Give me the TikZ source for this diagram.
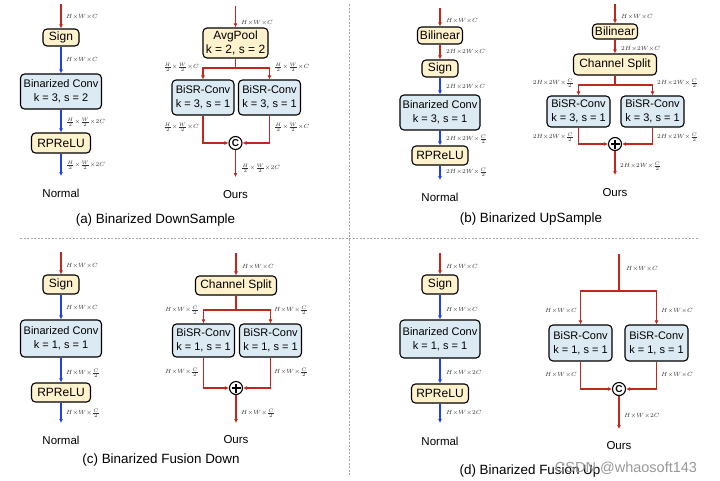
\documentclass[tikz,border=0pt]{standalone}
\usepackage{fontspec}
\setmainfont{Liberation Sans}
\usetikzlibrary{arrows.meta}
\definecolor{rc}{HTML}{C0281E}
\definecolor{bc}{HTML}{2040E8}
\definecolor{yf}{HTML}{FFF2CC}
\definecolor{bf}{HTML}{DCEAF4}
\newcommand{\mytimes}{{\times}}
\tikzset{
 boxbase/.style={draw=black, line width=1.1pt, rounded corners=4pt, inner sep=0pt, align=center},
 ybox/.style={boxbase, fill=yf, font=\fontsize{12}{14}\selectfont},
 bbox/.style={boxbase, fill=bf, font=\fontsize{11}{14}\selectfont},
 ra/.style={draw=rc, line width=1.1pt, -{Latex[length=4pt,width=4pt]}},
 rl/.style={draw=rc, line width=1.1pt},
 ba/.style={draw=bc, line width=1.1pt, -{Latex[length=4pt,width=4pt]}},
 dim/.style={font=\fontsize{6}{7}\selectfont, text=black!80, inner sep=0pt},
 dimL/.style={dim, anchor=west},
 dimR/.style={dim, anchor=east},
 lab/.style={font=\fontsize{11.5}{13}\selectfont},
 captxt/.style={font=\fontsize{13.4}{15}\selectfont},
 catc/.style={circle, draw=black, line width=1.1pt, fill=white, minimum size=13pt, inner sep=0pt, font=\fontsize{10}{10}\selectfont\bfseries},
 addc/.style={circle, draw=black, line width=1.1pt, fill=white, minimum size=13pt, inner sep=0pt,
   path picture={\draw[line width=1.1pt] ([xshift=-4.5pt]path picture bounding box.center) -- ([xshift=4.5pt]path picture bounding box.center);
                 \draw[line width=1.1pt] ([yshift=-4.5pt]path picture bounding box.center) -- ([yshift=4.5pt]path picture bounding box.center);}},
 sepline/.style={draw=black!35, dash pattern=on 2pt off 1.5pt, line width=0.6pt},
}
\begin{document}
\begin{tikzpicture}[x=1pt,y=-1pt]
\fill[white] (0,0) rectangle (720,480);
\useasboundingbox (0,0) rectangle (720,480);
% separators
\draw[sepline] (20,238.5) -- (698,238.5);
\draw[sepline] (349,4) -- (349,476);

% ===== (a) Normal =====
\coordinate (aNin) at (61,4);
\node[ybox, minimum width=36pt, minimum height=17pt] (aNsign) at (61,37.5) {Sign};
\node[bbox, minimum width=81pt, minimum height=35pt] (aNconv) at (61,91.5) {Binarized Conv\\k = 3, s = 2};
\node[ybox, minimum width=59pt, minimum height=20pt] (aNrp) at (61,143) {RPReLU};
\coordinate (aNout) at (61,176);
\draw[ra] (aNin) -- (aNsign);
\draw[ba] (aNsign) -- (aNconv);
\draw[ba] (aNconv) -- (aNrp);
\draw[ba] (aNrp) -- (aNout);
\node[dimL] (aNd1) at (66,17) {$H\mytimes W\mytimes C$};
\node[dimL] (aNd2) at (66,60) {$H\mytimes W\mytimes C$};
\node[dimL] (aNd3) at (66,122) {$\frac{H}{2}\mytimes\frac{W}{2}\mytimes 2C$};
\node[dimL] (aNd4) at (66,165) {$\frac{H}{2}\mytimes\frac{W}{2}\mytimes 2C$};
\node[lab] (aNt) at (61,193) {Normal};

% ===== (a) Ours =====
\coordinate (aOin) at (235.5,6);
\node[ybox, minimum width=65pt, minimum height=30pt] (aOpool) at (235.5,43) {AvgPool\\k = 2, s = 2};
\coordinate (aOj) at (235.5,68);
\node[bbox, minimum width=62pt, minimum height=35pt] (aOl) at (203,97.5) {BiSR-Conv\\k = 3, s = 1};
\node[bbox, minimum width=62pt, minimum height=35pt] (aOr) at (269.5,97.5) {BiSR-Conv\\k = 3, s = 1};
\node[catc] (aOc) at (235.5,143) {C};
\coordinate (aOout) at (235.5,177);
\draw[ra] (aOin) -- (aOpool);
\draw[rl] (aOpool) -- (aOj);
\draw[ra] (aOj) -| (aOl);
\draw[ra] (aOj) -| (aOr);
\draw[ra] (aOl) |- (aOc);
\draw[ra] (aOr) |- (aOc);
\draw[ra] (aOc) -- (aOout);
\node[dimL] (aOd1) at (241,23) {$H\mytimes W\mytimes C$};
\node[dimR] (aOd2) at (199,67) {$\frac{H}{2}\mytimes\frac{W}{2}\mytimes C$};
\node[dimL] (aOd3) at (274,67) {$\frac{H}{2}\mytimes\frac{W}{2}\mytimes C$};
\node[dimR] (aOd4) at (199,127) {$\frac{H}{2}\mytimes\frac{W}{2}\mytimes C$};
\node[dimL] (aOd5) at (274,127) {$\frac{H}{2}\mytimes\frac{W}{2}\mytimes C$};
\node[dimL] (aOd6) at (241,168) {$\frac{H}{2}\mytimes\frac{W}{2}\mytimes 2C$};
\node[lab] (aOt) at (235.5,195) {Ours};
\node[captxt] (aCap) at (155.5,220) {(a) Binarized DownSample};

% ===== (b) Normal =====
\coordinate (bNin) at (440,8);
\node[ybox, minimum width=45pt, minimum height=17pt] (bNbil) at (440,35.5) {Bilinear};
\node[ybox, minimum width=36pt, minimum height=17pt] (bNsign) at (440,68.5) {Sign};
\node[bbox, minimum width=80pt, minimum height=35pt] (bNconv) at (440,112.5) {Binarized Conv\\k = 3, s = 1};
\node[ybox, minimum width=56pt, minimum height=19pt] (bNrp) at (440,155.5) {RPReLU};
\coordinate (bNout) at (440,180);
\draw[ra] (bNin) -- (bNbil);
\draw[ra] (bNbil) -- (bNsign);
\draw[ba] (bNsign) -- (bNconv);
\draw[ba] (bNconv) -- (bNrp);
\draw[ba] (bNrp) -- (bNout);
\node[dimL] (bNd1) at (446,21) {$H\mytimes W\mytimes C$};
\node[dimL] (bNd2) at (446,52) {$2H\mytimes 2W\mytimes C$};
\node[dimL] (bNd3) at (446,87) {$2H\mytimes 2W\mytimes C$};
\node[dimL] (bNd4) at (446,139) {$2H\mytimes 2W\mytimes\frac{C}{2}$};
\node[dimL] (bNd5) at (446,172) {$2H\mytimes 2W\mytimes\frac{C}{2}$};
\node[lab] (bNt) at (440,197) {Normal};

% ===== (b) Ours =====
\coordinate (bOin) at (615,4);
\node[ybox, minimum width=45pt, minimum height=15pt] (bObil) at (615,31.5) {Bilinear};
\node[ybox, minimum width=83pt, minimum height=21pt] (bOcs) at (615,64.5) {Channel Split};
\coordinate (bOj) at (615,85);
\node[bbox, minimum width=63pt, minimum height=31pt] (bOl) at (578.5,111.5) {BiSR-Conv\\k = 3, s = 1};
\node[bbox, minimum width=63pt, minimum height=31pt] (bOr) at (652.5,111.5) {BiSR-Conv\\k = 3, s = 1};
\node[addc] (bOa) at (615,144) {};
\coordinate (bOout) at (615,175);
\draw[ra] (bOin) -- (bObil);
\draw[ra] (bObil) -- (bOcs);
\draw[rl] (bOcs) -- (bOj);
\draw[ra] (bOj) -| (bOl);
\draw[ra] (bOj) -| (bOr);
\draw[ra] (bOl) |- (bOa);
\draw[ra] (bOr) |- (bOa);
\draw[ra] (bOa) -- (bOout);
\node[dimL] (bOd1) at (621,17) {$H\mytimes W\mytimes C$};
\node[dimL] (bOd2) at (621,49) {$2H\mytimes 2W\mytimes C$};
\node[dimR] (bOd3) at (574,83) {$2H\mytimes 2W\mytimes\frac{C}{2}$};
\node[dimL] (bOd4) at (657,83) {$2H\mytimes 2W\mytimes\frac{C}{2}$};
\node[dimR] (bOd5) at (574,137) {$2H\mytimes 2W\mytimes\frac{C}{2}$};
\node[dimL] (bOd6) at (657,137) {$2H\mytimes 2W\mytimes\frac{C}{2}$};
\node[dimL] (bOd7) at (620,166) {$2H\mytimes 2W\mytimes\frac{C}{2}$};
\node[lab] (bOt) at (615,193) {Ours};
\node[captxt] (bCap) at (531,219) {(b) Binarized UpSample};

% ===== (c) Normal =====
\coordinate (cNin) at (61,252);
\node[ybox, minimum width=36pt, minimum height=19pt] (cNsign) at (61,284.5) {Sign};
\node[bbox, minimum width=81pt, minimum height=37pt] (cNconv) at (61,338.5) {Binarized Conv\\k = 1, s = 1};
\node[ybox, minimum width=59pt, minimum height=19pt] (cNrp) at (61,392.5) {RPReLU};
\coordinate (cNout) at (61,423);
\draw[ra] (cNin) -- (cNsign);
\draw[ba] (cNsign) -- (cNconv);
\draw[ba] (cNconv) -- (cNrp);
\draw[ba] (cNrp) -- (cNout);
\node[dimL] (cNd1) at (66,266) {$H\mytimes W\mytimes C$};
\node[dimL] (cNd2) at (66,308) {$H\mytimes W\mytimes C$};
\node[dimL] (cNd3) at (66,373) {$H\mytimes W\mytimes\frac{C}{2}$};
\node[dimL] (cNd4) at (66,413) {$H\mytimes W\mytimes\frac{C}{2}$};
\node[lab] (cNt) at (61,440) {Normal};

% ===== (c) Ours =====
\coordinate (cOin) at (236,253);
\node[ybox, minimum width=81pt, minimum height=19pt] (cOcs) at (236,285.5) {Channel Split};
\coordinate (cOj) at (236,310);
\node[bbox, minimum width=62pt, minimum height=33pt] (cOl) at (203.5,340.5) {BiSR-Conv\\k = 1, s = 1};
\node[bbox, minimum width=62pt, minimum height=33pt] (cOr) at (270.5,340.5) {BiSR-Conv\\k = 1, s = 1};
\node[addc] (cOa) at (236,388) {};
\coordinate (cOout) at (236,423);
\draw[ra] (cOin) -- (cOcs);
\draw[rl] (cOcs) -- (cOj);
\draw[ra] (cOj) -| (cOl);
\draw[ra] (cOj) -| (cOr);
\draw[ra] (cOl) |- (cOa);
\draw[ra] (cOr) |- (cOa);
\draw[ra] (cOa) -- (cOout);
\node[dimL] (cOd1) at (242,267) {$H\mytimes W\mytimes C$};
\node[dimR] (cOd2) at (199,310) {$H\mytimes W\mytimes\frac{C}{2}$};
\node[dimL] (cOd3) at (274,310) {$H\mytimes W\mytimes\frac{C}{2}$};
\node[dimR] (cOd4) at (199,372) {$H\mytimes W\mytimes\frac{C}{2}$};
\node[dimL] (cOd5) at (274,372) {$H\mytimes W\mytimes\frac{C}{2}$};
\node[dimL] (cOd6) at (241,413) {$H\mytimes W\mytimes\frac{C}{2}$};
\node[lab] (cOt) at (236,440) {Ours};
\node[captxt] (cCap) at (161,460.5) {(c) Binarized Fusion Down};

% ===== (d) Normal =====
\coordinate (dNin) at (440,253);
\node[ybox, minimum width=36pt, minimum height=19pt] (dNsign) at (440,284.5) {Sign};
\node[bbox, minimum width=80pt, minimum height=38pt] (dNconv) at (440,339) {Binarized Conv\\k = 1, s = 1};
\node[ybox, minimum width=57pt, minimum height=19pt] (dNrp) at (440,393.5) {RPReLU};
\coordinate (dNout) at (440,423);
\draw[ra] (dNin) -- (dNsign);
\draw[ba] (dNsign) -- (dNconv);
\draw[ba] (dNconv) -- (dNrp);
\draw[ba] (dNrp) -- (dNout);
\node[dimL] (dNd1) at (446,267) {$H\mytimes W\mytimes C$};
\node[dimL] (dNd2) at (446,310) {$H\mytimes W\mytimes C$};
\node[dimL] (dNd3) at (446,373) {$H\mytimes W\mytimes 2C$};
\node[dimL] (dNd4) at (446,413) {$H\mytimes W\mytimes 2C$};
\node[lab] (dNt) at (440,441) {Normal};

% ===== (d) Ours =====
\coordinate (dOin) at (619,254);
\coordinate (dOj) at (619,291);
\node[bbox, minimum width=63pt, minimum height=36pt] (dOl) at (580.5,343) {BiSR-Conv\\k = 1, s = 1};
\node[bbox, minimum width=63pt, minimum height=36pt] (dOr) at (656.5,343) {BiSR-Conv\\k = 1, s = 1};
\node[catc] (dOc) at (619,389) {C};
\coordinate (dOout) at (619,429);
\draw[rl] (dOin) -- (dOj);
\draw[ra] (dOj) -| (dOl);
\draw[ra] (dOj) -| (dOr);
\draw[ra] (dOl) |- (dOc);
\draw[ra] (dOr) |- (dOc);
\draw[ra] (dOc) -- (dOout);
\node[dimL] (dOd1) at (626,269) {$H\mytimes W\mytimes C$};
\node[dimR] (dOd2) at (577,311) {$H\mytimes W\mytimes C$};
\node[dimL] (dOd3) at (661,311) {$H\mytimes W\mytimes C$};
\node[dimR] (dOd4) at (577,375) {$H\mytimes W\mytimes C$};
\node[dimL] (dOd5) at (661,375) {$H\mytimes W\mytimes C$};
\node[dimL] (dOd6) at (624,416) {$H\mytimes W\mytimes 2C$};
\node[lab] (dOt) at (619,446) {Ours};
\node[captxt] (dCap) at (530,471) {(d) Binarized Fusion Up};
\node[font=\fontsize{14.5}{16}\selectfont, text=black!40] (wm) at (626,468) {CSDN @whaosoft143};
\end{tikzpicture}
\end{document}
